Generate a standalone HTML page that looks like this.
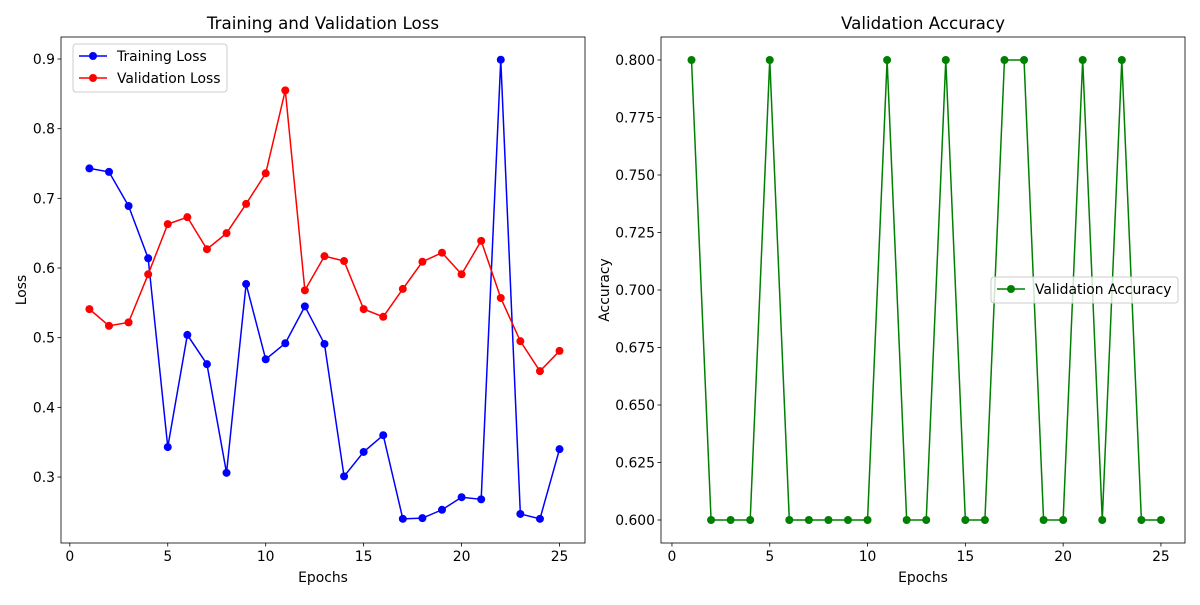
<!DOCTYPE html>
<html><head><meta charset="utf-8"><style>
body{margin:0;background:#fff;font-family:"Liberation Sans","DejaVu Sans",sans-serif}
svg text{font-family:"DejaVu Sans","Liberation Sans",sans-serif;fill:#000}
</style></head><body>
<svg id="c" width="1200" height="600" xmlns="http://www.w3.org/2000/svg"></svg>
<script>
const epochs=[1,2,3,4,5,6,7,8,9,10,11,12,13,14,15,16,17,18,19,20,21,22,23,24,25];
const trainLoss=[0.743,0.738,0.689,0.614,0.343,0.504,0.462,0.306,0.577,0.469,0.492,0.545,0.491,0.301,0.336,0.360,0.240,0.241,0.253,0.271,0.268,0.899,0.247,0.240,0.340];
const valLoss=[0.541,0.517,0.522,0.591,0.663,0.673,0.627,0.650,0.692,0.736,0.855,0.568,0.617,0.610,0.541,0.530,0.570,0.609,0.622,0.591,0.639,0.557,0.495,0.452,0.481];
const valAcc=[0.8,0.6,0.6,0.6,0.8,0.6,0.6,0.6,0.6,0.6,0.8,0.6,0.6,0.8,0.6,0.6,0.8,0.8,0.6,0.6,0.8,0.6,0.8,0.6,0.6];
const xTicks=[0,5,10,15,20,25];
const lossTicks=[0.3,0.4,0.5,0.6,0.7,0.8,0.9];
const accTicks=[0.600,0.625,0.650,0.675,0.700,0.725,0.750,0.775,0.800];
const NS="http://www.w3.org/2000/svg";const svg=document.getElementById('c');
function el(t,a,p){const e=document.createElementNS(NS,t);for(const k in a)e.setAttribute(k,a[k]);(p||svg).appendChild(e);return e;}
function txt(s,a,p){const e=el('text',a,p);e.textContent=s;return e;}
const FS=13.9;
function panel(o){
  const g=el('g',{});
  
  
  const sx=v=>o.L+(v-o.x0)/(o.x1-o.x0)*(o.R-o.L);
  const sy=v=>o.B-(v-o.y0)/(o.y1-o.y0)*(o.B-o.T);
  const ax=el('rect',{x:o.L,y:o.T,width:o.R-o.L,height:o.B-o.T,fill:'none',stroke:'#000','stroke-width':0.8},g);
  
  
  xTicks.forEach(t=>{const x=sx(t);el('line',{x1:x,x2:x,y1:o.B,y2:o.B+3.5,stroke:'#000','stroke-width':0.8},g);
    const l=txt(String(t),{x:x,y:o.B+18,'font-size':FS,'text-anchor':'middle'},g);
    
    });
  o.yt.forEach(t=>{const y=sy(t);el('line',{x1:o.L,x2:o.L-3.5,y1:y,y2:y,stroke:'#000','stroke-width':0.8},g);
    const l=txt(t.toFixed(o.dec),{x:o.L-6,y:y+5,'font-size':FS,'text-anchor':'end'},g);
    
    });
  const ti=txt(o.title,{x:(o.L+o.R)/2,y:o.T-8,'font-size':16.7,'text-anchor':'middle'},g);
  
  
  const xl=txt('Epochs',{x:(o.L+o.R)/2,y:582,'font-size':FS,'text-anchor':'middle'},g);
  
  
  const yl=txt(o.ylab,{x:0,y:0,'font-size':FS,'text-anchor':'middle',transform:`translate(${o.ylx},${(o.T+o.B)/2}) rotate(-90)`},g);
  
  
  o.series.forEach(s=>{
    const pts=epochs.map((e,i)=>sx(e)+','+sy(s.d[i])).join(' ');
    const pl=el('polyline',{points:pts,fill:'none',stroke:s.c,'stroke-width':1.5},g);
    
    
    epochs.forEach((e,i)=>{const c=el('circle',{cx:sx(e),cy:sy(s.d[i]),r:4,fill:s.c},g);
      
      });
  });
  const lg=el('g',{},g);
  
  
  el('rect',{x:o.lx,y:o.ly,width:o.lw,height:o.series.length*22+4,rx:3,fill:'#fff','fill-opacity':0.8,stroke:'#ccc'},lg);
  o.series.forEach((s,i)=>{const y=o.ly+12+i*22;
    el('line',{x1:o.lx+6,x2:o.lx+34,y1:y,y2:y,stroke:s.c,'stroke-width':1.5},lg);
    el('circle',{cx:o.lx+20,cy:y,r:4,fill:s.c},lg);
    const t=txt(s.label,{x:o.lx+44,y:y+5,'font-size':FS},lg);
    
    });
}
panel({name:'loss-chart',L:61,R:585,T:37,B:543,x0:-0.45,x1:26.3,y0:0.2053,y1:0.9316,yt:lossTicks,dec:1,
  title:'Training and Validation Loss',ylab:'Loss',ylx:26,lx:73,ly:44,lw:154,
  series:[{n:'training-loss',d:trainLoss,c:'#0000ff',label:'Training Loss'},{n:'validation-loss',d:valLoss,c:'#ff0000',label:'Validation Loss'}]});
panel({name:'accuracy-chart',L:661,R:1185,T:37,B:543,x0:-0.56,x1:26.23,y0:0.59,y1:0.81,yt:accTicks,dec:3,
  title:'Validation Accuracy',ylab:'Accuracy',ylx:609,lx:991,ly:277,lw:187,
  series:[{n:'validation-accuracy',d:valAcc,c:'#008000',label:'Validation Accuracy'}]});
</script>
</body></html>
